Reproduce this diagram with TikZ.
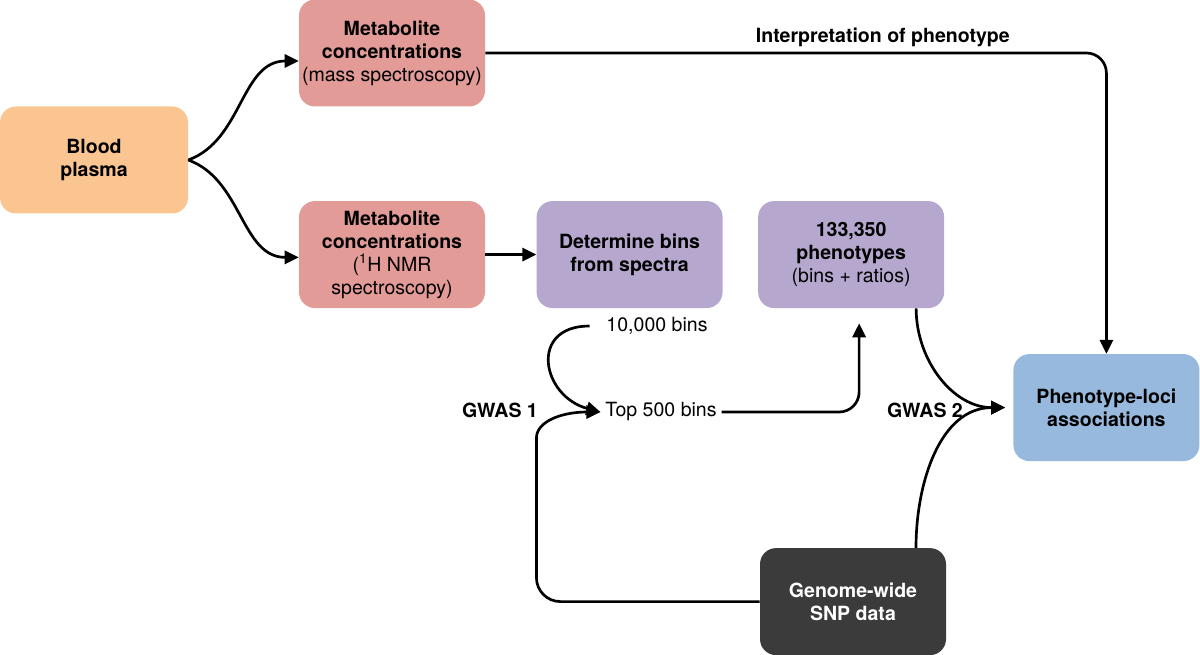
\documentclass[tikz,border=0pt]{standalone}
\usepackage{fontspec}
\setmainfont{TeX Gyre Heros}
\usepackage{xcolor}
\usetikzlibrary{arrows.meta, positioning, calc}
\definecolor{plasmaorange}{HTML}{FBC592}
\definecolor{metapink}{HTML}{E29B97}
\definecolor{binpurple}{HTML}{B5A7CE}
\definecolor{lociblue}{HTML}{98B9DE}
\definecolor{snpgrey}{HTML}{3B3B3B}

\begin{document}
\begin{tikzpicture}[node distance=2cm, every node/.style={font=\fontsize{13.9}{16.4}\selectfont},
  box/.style={rectangle, rounded corners=0.4cm, minimum width=4.65cm, minimum height=2.675cm, align=center, inner sep=0pt},
  >={Triangle[length=0.35cm, width=0.33cm]}]
\useasboundingbox (0,0) rectangle (30,-16.375);

\node (plasma) [box, fill=plasmaorange, minimum width=4.7cm] at (2.35,-4.0) {\textbf{Blood}\\\textbf{plasma}};
\node (massspec) [box, fill=metapink] at (9.8,-1.325) {\textbf{Metabolite}\\\textbf{concentrations}\\(mass spectroscopy)};
\node (nmr) [box, fill=metapink, below=2.35cm of massspec] {\textbf{Metabolite}\\\textbf{concentrations}\\(\textsuperscript{1}H NMR\\spectroscopy)};
\node (bins) [box, fill=binpurple, right=1.275cm of nmr] {\textbf{Determine bins}\\\textbf{from spectra}};
\node (phenotypes) [box, fill=binpurple, right=0.875cm of bins] {\textbf{133,350}\\\textbf{phenotypes}\\(bins + ratios)};
\node (loci) [box, fill=lociblue] at (27.66,-10.19) {\textbf{Phenotype-loci}\\\textbf{associations}};
\node (snp) [box, fill=snpgrey, text=white] at (21.325,-15.04) {\textbf{Genome-wide}\\\textbf{SNP data}};

\node (tenk) at (16.425,-8.15) {10,000 bins};
\node (top) at (16.525,-10.3) {Top 500 bins};
\node (gwasone) at (12.5,-10.25) {\textbf{GWAS 1}};
\node (gwastwo) at (23.125,-10.25) {\textbf{GWAS 2}};

\coordinate (gwasbend) at ([xshift=-1.6cm, yshift=-0.65cm]top.west);

\draw[->, line width=1.9pt] (plasma.east) to[out=20, in=180] ([yshift=-0.2cm]massspec.west);
\draw[->, line width=1.9pt] (plasma.east) to[out=-20, in=180] ([yshift=-0.07cm]nmr.west);
\draw[->, line width=1.9pt] (nmr.east) -- (bins.west);
\draw[->, line width=1.9pt, rounded corners=0.5cm] (massspec.east) -| node[pos=0.32, above] (interp) {\textbf{Interpretation of phenotype}} (loci.north);
\draw[->, line width=1.9pt] ([xshift=-0.3cm]tenk.west) to[out=180, in=165, looseness=1.8] (top.west);
\draw[->, line width=1.9pt] (snp.west) -- ($(gwasbend |- snp.west)+(0.6,0)$) to[out=180, in=-90] ($(gwasbend |- snp.west)+(0,0.6)$) -- (gwasbend) .. controls +(0,0.4) and +(-1.0,0) .. (top.west);
\draw[->, line width=1.9pt, rounded corners=0.5cm] (top.east) -| ([xshift=0.2cm, yshift=-0.375cm]phenotypes.south);
\draw[->, line width=1.9pt] ([xshift=1.625cm]phenotypes.south) to[out=-90, in=180] ([xshift=-0.2cm]loci.west);
\draw[->, line width=1.9pt] ([xshift=1.575cm]snp.north) to[out=90, in=180] ([xshift=-0.2cm]loci.west);
\end{tikzpicture}
\end{document}
